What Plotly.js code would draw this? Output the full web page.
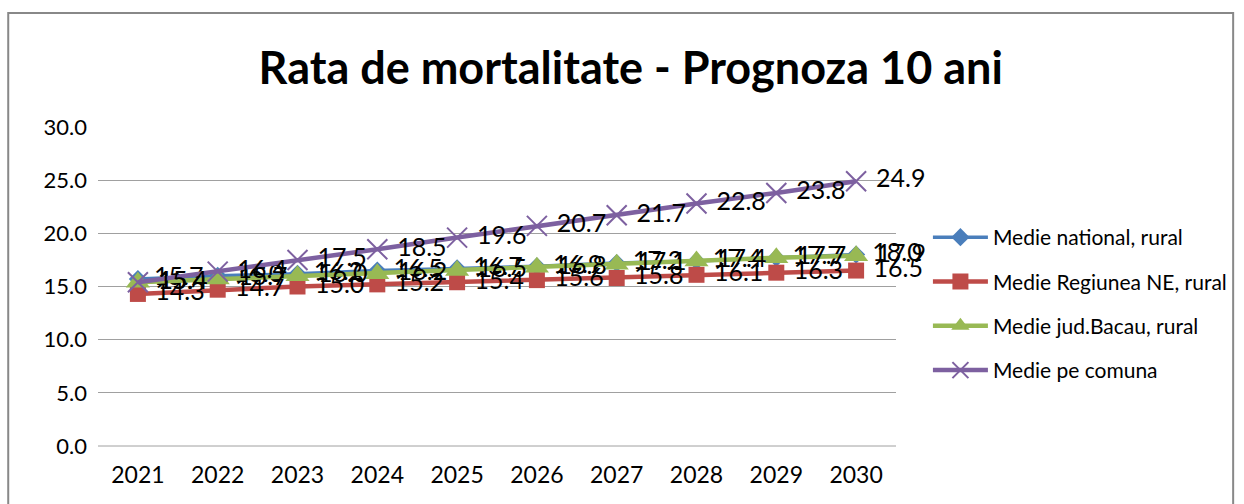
<!DOCTYPE html>
<html><head><meta charset="utf-8">
<script src="https://cdn.plot.ly/plotly-3.0.1.min.js"></script>
<style>html,body{margin:0;padding:0;background:#fff;}#chart{width:1244px;height:504px;}</style>
</head><body><div id="chart"></div>
<script>
const years = ['2021','2022','2023','2024','2025','2026','2027','2028','2029','2030'];
const national = [15.7,16.0,16.2,16.5,16.7,16.9,17.2,17.4,17.7,18.0];
const regiuneaNE = [14.3,14.7,15.0,15.2,15.4,15.6,15.8,16.1,16.3,16.5];
const bacau = [15.4,15.7,16.0,16.2,16.5,16.8,17.1,17.4,17.7,17.9];
const comuna = [15.4,16.4,17.5,18.5,19.6,20.7,21.7,22.8,23.8,24.9];
const names = ['Medie national, rural','Medie Regiunea NE, rural','Medie jud.Bacau, rural','Medie pe comuna'];
const yTicks = [0,5,10,15,20,25,30];

const font = 'Lato, "Open Sans", sans-serif';
function tr(y, name, color, sym, msize, lw, mline){
  return {x: years, y: y, name: name, type:'scatter', mode:'lines+markers+text',
    text: y.map(v=>'\u00A0'+v.toFixed(1)), textposition:'middle right',
    textfont:{family:font, size:25, color:'#000'},
    line:{color:color, width:lw},
    marker:{symbol:sym, size:msize, color:color, line: mline||{width:0}},
    legendgroup:name, cliponaxis:false, hoverinfo:'x+y'};
}
const data = [
  tr(national, names[0], '#4A7EBB', 'diamond', 14, 3.5),
  tr(regiuneaNE, names[1], '#BE4B48', 'square', 16, 4.5),
  tr(bacau, names[2], '#98B954', 'triangle-up', 21, 4.5),
  tr(comuna, names[3], '#7D60A0', 'x-thin', 20, 4.5, {color:'#7D60A0', width:2})
];
const layout = {
  width:1244, height:504,
  margin:{l:98, r:346, t:127, b:58},
  paper_bgcolor:'#fff', plot_bgcolor:'#fff',
  title:{text:'<b>Rata de mortalitate - Prognoza 10 ani</b>', font:{family:font, size:45, color:'#000'}, x:0.507, xanchor:'center', y:0.865, yanchor:'middle'},
  xaxis:{type:'category', showgrid:false, zeroline:false, showline:false, ticks:'', tickfont:{family:font, size:23, color:'#000'}, ticklabelstandoff:13, range:[-0.5,9.5], fixedrange:true},
  yaxis:{range:[0,30], tickvals:yTicks, ticktext:yTicks.map(v=>v.toFixed(1)), showgrid:true, gridcolor:'#a0a0a0', gridwidth:1, zeroline:false, showline:false, ticks:'', tickfont:{family:font, size:22, color:'#000'}, ticklabelstandoff:10, fixedrange:true},
  showlegend:true,
  legend:{x:1.04, xanchor:'left', y:0.445, yanchor:'middle', font:{family:font, size:21, color:'#000'}, tracegroupgap:14, itemwidth:55, bgcolor:'rgba(0,0,0,0)'},
  shapes:[{type:'rect', xref:'paper', yref:'paper', x0:-0.1125, x1:1.4225, y0:-0.3, y1:1.357, line:{color:'#888', width:2}, fillcolor:'rgba(0,0,0,0)', layer:'below'},
          {type:'line', xref:'paper', yref:'paper', x0:0, x1:1, y0:0, y1:0, line:{color:'#a0a0a0', width:1}}]
};
Plotly.newPlot('chart', data, layout, {displayModeBar:false, staticPlot:true});
</script></body></html>
